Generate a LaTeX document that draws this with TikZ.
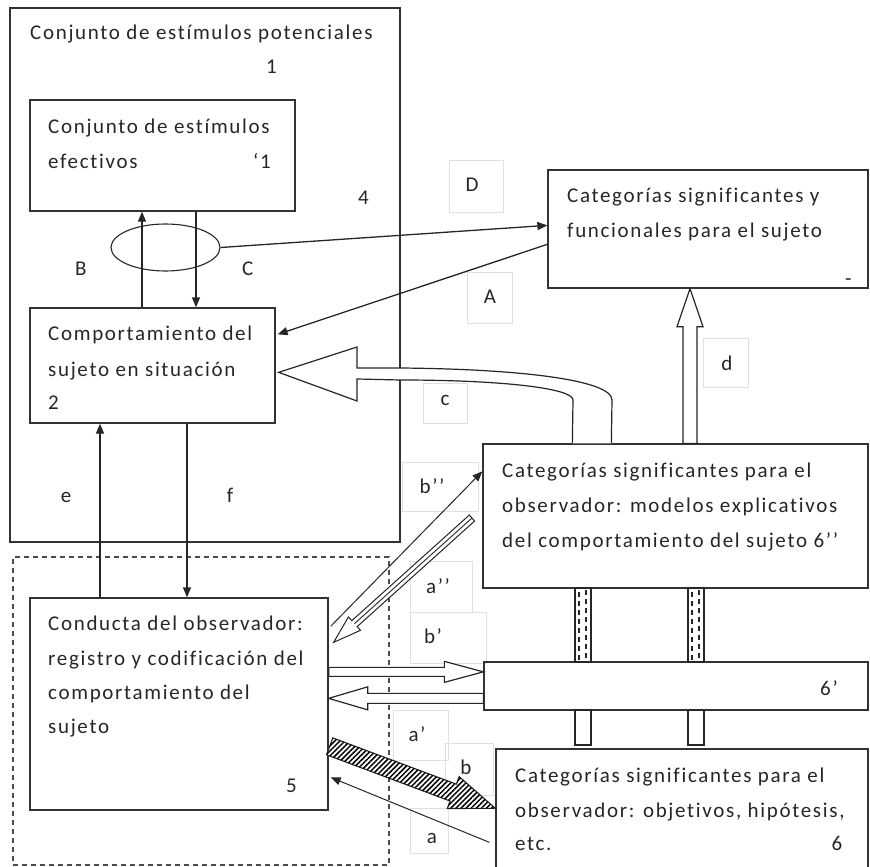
\documentclass[tikz,border=0pt]{standalone}
\usepackage{fontspec}
\setmainfont[LetterSpace=8, Ligatures={NoCommon}]{Carlito}
\usetikzlibrary{arrows.meta,calc,fit,shapes.geometric,patterns.meta}

% fat (hollow) arrow: #1 style, #2 tail, #3 tip, #4 shaft half width, #5 head half width, #6 head length
\newcommand\fatarrow[6]{%
  \coordinate (fa-h) at ($(#3)!#6!(#2)$);
  \draw[#1] ($(#2)!#4!90:(#3)$) -- ($(fa-h)!#4!90:(#3)$) -- ($(fa-h)!#5!90:(#3)$)
    -- (#3) -- ($(fa-h)!#5!-90:(#3)$) -- ($(fa-h)!#4!-90:(#3)$) -- ($(#2)!#4!-90:(#3)$) -- cycle;
}

\tikzset{
  box/.style={draw=black!80, line width=1.3pt, inner sep=0pt},
  lblbox/.style={draw=black!12, line width=0.8pt},
  txt/.style={anchor=base west, inner sep=0pt, font=\fontsize{21}{25}\selectfont, text=black!85},
  lbl/.style={anchor=base, inner sep=0pt, font=\fontsize{21}{25}\selectfont, text=black!85},
  link/.style={draw=black!85, line width=1.3pt, -{Triangle[length=10pt,width=8pt]}},
  hollow/.style={draw=black!85, line width=1.2pt, fill=white, line join=miter},
  barbox/.style={draw=black!85, line width=1.2pt, fill=white},
  bardash/.style={draw=black!85, line width=1.1pt, dash pattern=on 5pt off 4pt},
}

\begin{document}
\begin{tikzpicture}[x=1pt,y=-1pt]
\useasboundingbox (0,0) rectangle (870,867);

% faint frames round the short labels
\draw[lblbox] (449,160) rectangle (503,212);
\draw[lblbox] (467,272) rectangle (512,323);
\draw[lblbox] (703,338) rectangle (748,387);
\draw[lblbox] (423,383) rectangle (467,423);
\draw[lblbox] (402,462) rectangle (478,511);
\draw[lblbox] (410,561) rectangle (472,612);
\draw[lblbox] (410,612) rectangle (486,663);
\draw[lblbox] (393,710) rectangle (448,760);
\draw[lblbox] (445,743) rectangle (493,795);
\draw[lblbox] (410,808) rectangle (448,853);

% boxes
\node[box, fit={(10,8)(400,542)}] (pot) {};
\node[box, fit={(30,100)(295,211)}] (efe) {};
\node[box, fit={(30,308)(275,423)}] (comp) {};
\node[box, fit={(548,170)(868,288)}] (suj) {};
\node[box, fit={(483,444)(868,588)}] (mod) {};
\node[box, fit={(484,662)(868,710)}] (cod) {};
\node[box, fit={(496,749)(868,900)}] (obj) {};
\node[box, fit={(30,598)(328,810)}] (obs) {};
\node[draw=black!70, line width=1.1pt, dash pattern=on 5pt off 4pt, inner sep=0pt, fit={(13,557)(389,865)}] (obsarea) {};
\node[draw=black!85, line width=1.1pt, ellipse, inner sep=0pt, minimum width=109pt, minimum height=47pt] (ell) at (165.5,247.5) {};

% bars joining the observer's category boxes
\foreach \bx in {575,688} {
  \draw[barbox] (\bx,588) rectangle ++(16,74);
  \draw[bardash] (\bx+4,592) -- (\bx+4,660);
  \draw[bardash] (\bx+11,590) -- (\bx+11,660);
  \draw[barbox] (\bx,710) rectangle ++(16,35);
}

% vertical connectors
\coordinate (xB) at (142,0);
\coordinate (xC) at (196,0);
\coordinate (xe) at (100,0);
\coordinate (xf) at (187,0);
\coordinate (xd) at (690,0);
\draw[link] (comp.north -| xB) -- (efe.south -| xB);
\draw[link] (efe.south -| xC) -- (comp.north -| xC);
\draw[link] (obs.north -| xe) -- (comp.south -| xe);
\draw[link] (comp.south -| xf) -- (obs.north -| xf);

% slanted connectors
\draw[link] (ell.east) -- ($(suj.north west)+(0,56)$);
\draw[link] ($(suj.north west)+(0,75)$) -- ($(comp.north east)+(2,27)$);
\draw[link, line width=1pt] ($(obs.north east)+(2,29)$) -- ($(mod.north west)+(0,28)$);
\draw[link, line width=1pt] ($(obj.north west)+(-6,94)$) -- ($(obs.north east)+(2,180)$);

% curved wide arrow c
\draw[hollow] ($(mod.north west)+(90,0)$) -- (573,400) .. controls (573,388) and (500,380) .. (400,380)
  -- (357,379) -- (357,401) -- ($(comp.north east)+(3,65)$) -- (357,347) -- (357,368) -- (400,368)
  .. controls (520,369) and (612,380) .. (612,400) -- ($(mod.north west)+(129,0)$);

% wide arrows
\fatarrow{hollow}{mod.north -| xd}{suj.south -| xd}{7pt}{13pt}{38pt}
\coordinate (bpt) at ($(obs.north east)+(0,74.5)$);
\coordinate (bph) at ($(cod.north west)+(0,10.5)$);
\fatarrow{hollow}{bpt}{bph}{4.5pt}{10.5pt}{39pt}
\coordinate (apt) at ($(cod.north west)+(0,37)$);
\coordinate (aph) at ($(obs.north east)+(0,101)$);
\fatarrow{hollow}{apt}{aph}{5pt}{11.5pt}{39pt}
\coordinate (a2t) at (472,518);
\coordinate (a2h) at ($(obs.north east)+(5,45)$);
\fatarrow{hollow, line width=1pt}{a2t}{a2h}{4pt}{9pt}{28pt}
\draw[black!85, line width=0.9pt] (a2t) -- (fa-h);
\coordinate (bt) at ($(obs.north east)+(1,149)$);
\coordinate (bh) at ($(obj.north west)+(0,60)$);
\fatarrow{draw=black!85, line width=1.1pt, fill=white, postaction={pattern={Lines[angle=45,distance=3.6pt,line width=1.5pt]}}}{bt}{bh}{9pt}{17pt}{45pt}

% texts
\node[txt] (t1a) at (30,40) {Conjunto de estímulos potenciales};
\node[txt] (t1b) at (266,74) {1};
\node[txt] (t4) at (358,204) {4};
\node[txt] (t1c) at (48,133) {Conjunto de estímulos};
\node[txt] (t1d) at (48,168) {efectivos};
\node[txt] (t1e) at (253,168) {‘1};
\node[txt] (tB) at (75,275) {B};
\node[txt] (tC) at (242,275) {C};
\node[txt] (t2a) at (48,340) {Comportamiento del};
\node[txt] (t2b) at (48,376) {sujeto en situación};
\node[txt] (t2c) at (48,409) {2};
\node[txt] (tsa) at (567,202) {Categorías significantes y};
\node[txt] (tsb) at (567,237) {funcionales para el sujeto};
\node[txt] (tsc) at (845,285) {-};
\node[txt] (tma) at (502,477) {Categorías significantes para el};
\node[txt] (tmb) at (502,512) {observador: modelos explicativos};
\node[txt] (tmc) at (502,547) {del comportamiento del sujeto 6’’};
\node[lbl] (tc6) at (829,695) {6’};
\node[txt] (toa) at (48,630) {Conducta del observador:};
\node[txt] (tob) at (48,665) {registro y codificación del};
\node[txt] (toc) at (48,699) {comportamiento del};
\node[txt] (tod) at (48,733) {sujeto};
\node[txt] (t5) at (286,792) {5};
\node[txt] (tja) at (515,782) {Categorías significantes para el};
\node[txt] (tjb) at (515,817) {observador: objetivos, hipótesis,};
\node[txt] (tjc) at (515,850) {etc.};
\node[lbl] (t6) at (837,850) {6};

% connector labels
\node[lbl] (lD) at (472,191) {D};
\node[lbl] (lA) at (490,303) {A};
\node[lbl] (ld) at (727,370) {d};
\node[lbl] (lc) at (445,405) {c};
\node[lbl] (lb2) at (432,493) {b’’};
\node[lbl] (la2) at (438,593) {a’’};
\node[lbl] (lb1) at (433,643) {b’};
\node[lbl] (la1) at (417,741) {a’};
\node[lbl] (lb) at (466,774) {b};
\node[lbl] (la) at (432,843) {a};
\node[lbl] (le) at (66,502) {e};
\node[lbl] (lf) at (230,502) {f};
\end{tikzpicture}
\end{document}
